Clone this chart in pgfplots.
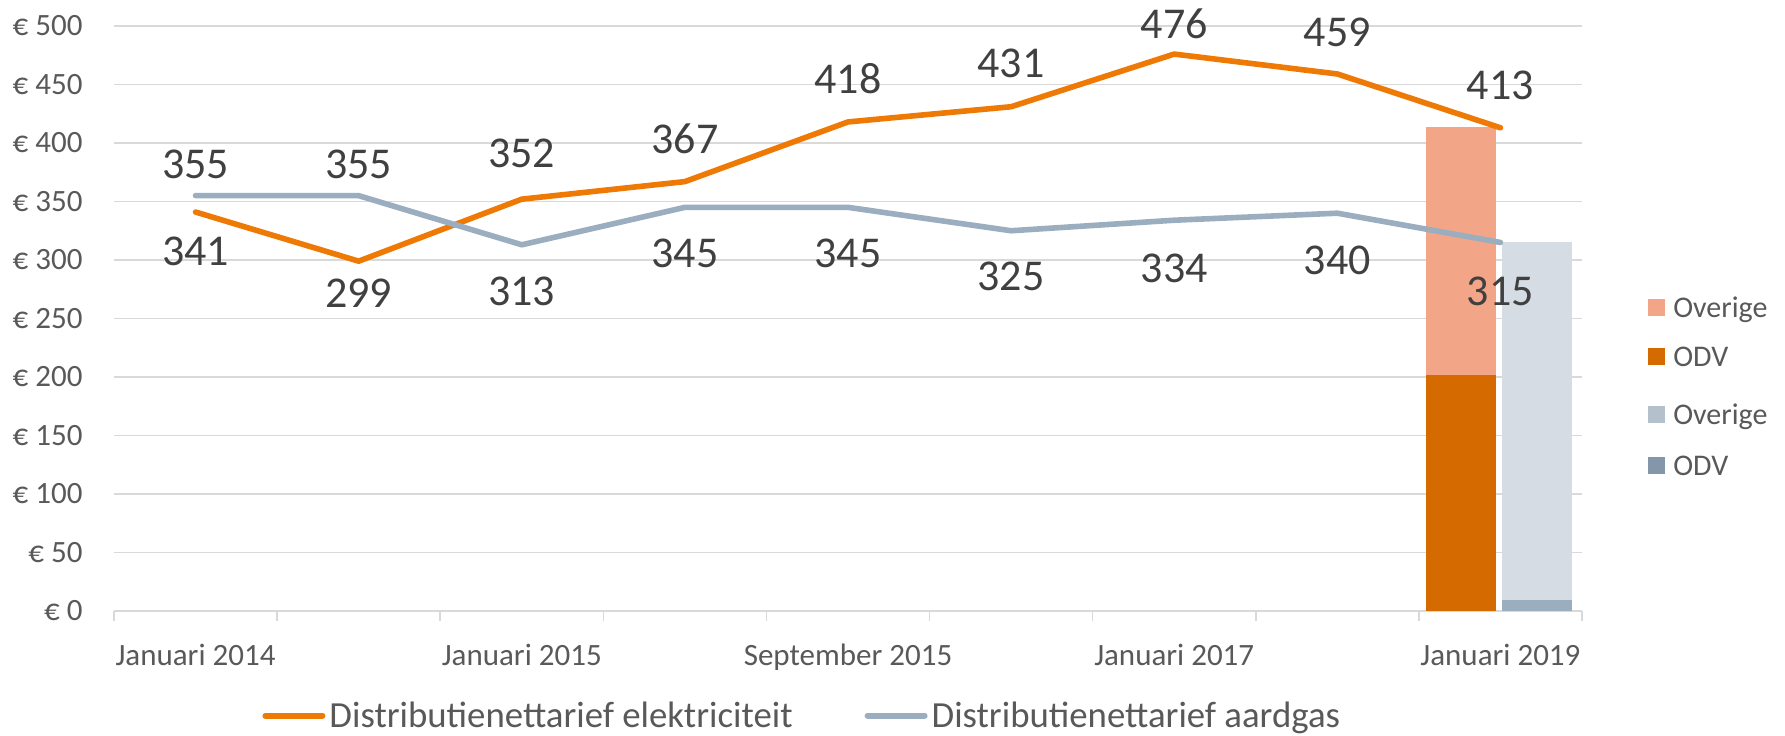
\documentclass[border=0pt]{standalone}
\usepackage{fontspec}
\setmainfont{Carlito}
\usepackage{pgfplots}
\usepackage{pgfplotstable}
\pgfplotsset{compat=1.18}
\definecolor{elec}{HTML}{EE7A05}
\definecolor{gas}{HTML}{9BAEBF}
\definecolor{eodv}{HTML}{D46A00}
\definecolor{eov}{HTML}{F2A687}
\definecolor{gov}{HTML}{D6DCE4}
\definecolor{godv}{HTML}{9BAEBF}
\definecolor{govleg}{HTML}{B4C1CD}
\definecolor{godvleg}{HTML}{8497AA}
\definecolor{gridc}{HTML}{D9D9D9}
\definecolor{labc}{HTML}{404040}
\definecolor{tickc}{HTML}{595959}

\pgfplotstableread{
x y off
1 341 -19.6
2 299 -16.2
3 352 22.8
4 367 21.4
5 418 21.8
6 431 21.6
7 476 15.2
8 459 21.0
9 413 21.3
}\elecdata
\pgfplotstableread{
x y off
1 355 15.4
2 355 15.4
3 313 -23.2
4 345 -23.2
5 345 -23.2
6 325 -22.8
7 334 -24.1
8 340 -23.6
9 315 -24.4
}\gasdata

\pgfplotsset{
  hidelegend/.style={at={(57bp,62.5bp)}, anchor=south west, width=734bp, height=292.5bp,
    scale only axis, hide axis, xmin=0, xmax=1, ymin=0, ymax=1,
    legend cell align=left,
    legend image code/.code={\fill[##1] (0bp,1bp) rectangle (8bp,9bp);}},
  sqlegend/.style={draw=none, fill=none, inner sep=0pt,
    font=\fontsize{15bp}{18bp}\selectfont, text=tickc,
    nodes={inner sep=0pt, text height=10bp, text depth=3bp, anchor=base west},
    row sep=11.5bp, column sep=4bp, anchor=west}
}

\begin{document}
\begin{tikzpicture}
\useasboundingbox (0,0) rectangle (892.5bp,368bp);
\begin{axis}[
  at={(57bp,62.5bp)}, anchor=south west,
  width=734bp, height=292.5bp, scale only axis,
  xmin=0.5, xmax=9.5, ymin=0, ymax=500,
  clip=false,
  axis line style={draw=none},
  xtick={1,3,5,7,9},
  xticklabels={Januari 2014, Januari 2015, September 2015, Januari 2017, Januari 2019},
  minor xtick={0.5,1.5,...,9.5},
  ytick={0,50,...,500},
  /pgf/number format/assume math mode=true,
  yticklabel={€ \pgfmathprintnumber{\tick}},
  xtick pos=lower, ytick pos=left,
  tick align=outside,
  major tick length=0pt,
  minor tick length=5bp,
  minor tick style={gridc, line width=0.75bp},
  ymajorgrids,
  major grid style={gridc, line width=0.75bp},
  tick label style={font=\fontsize{15.5bp}{18bp}\selectfont, text=tickc},
  x tick label style={anchor=base, yshift=-27bp},
  y tick label style={anchor=east, inner sep=0pt, xshift=-15.5bp},
  legend columns=2,
  legend cell align=left,
  legend style={at={(0.0995,-0.18)}, anchor=west, draw=none, fill=none, inner sep=1pt,
    font=\fontsize{18.4bp}{22bp}\selectfont, text=tickc,
    nodes={inner sep=0pt, anchor=base west}, column sep=2bp,
    /tikz/every even column/.append style={column sep=36bp}},
  legend image code/.code={\draw[#1, line width=3bp] (0bp,6bp) -- (28.5bp,6bp);},
]
% bars for the last category
\addplot[ybar, bar width=35bp, bar shift=-19.5bp, fill=eov, draw=none, forget plot] coordinates {(9,414)};
\addplot[ybar, bar width=35bp, bar shift=-19.5bp, fill=eodv, draw=none, forget plot] coordinates {(9,202)};
\addplot[ybar, bar width=35bp, bar shift=18.5bp, fill=gov, draw=none, forget plot] coordinates {(9,315)};
\addplot[ybar, bar width=35bp, bar shift=18.5bp, fill=godv, draw=none, forget plot] coordinates {(9,9)};
% lines
\addplot[elec, line width=2.8bp, line join=round, line cap=round, mark=none,
  nodes near coords, point meta=explicit symbolic,
  visualization depends on={\thisrow{off}\as\myoff},
  every node near coord/.append style={anchor=center, yshift=\myoff bp,
    font=\fontsize{22bp}{26bp}\selectfont, text=labc}]
  table[x=x, y=y, meta=y]{\elecdata};
\addlegendentry{Distributienettarief elektriciteit}
\addplot[gas, line width=2.8bp, line join=round, line cap=round, mark=none,
  nodes near coords, point meta=explicit symbolic,
  visualization depends on={\thisrow{off}\as\myoff},
  every node near coord/.append style={anchor=center, yshift=\myoff bp,
    font=\fontsize{22bp}{26bp}\selectfont, text=labc}]
  table[x=x, y=y, meta=y]{\gasdata};
\addlegendentry{Distributienettarief aardgas}
\end{axis}

\begin{axis}[hidelegend, legend style={sqlegend, at={(1.045,0.472)}}]
\addlegendimage{eov}
\addlegendentry{Overige}
\addlegendimage{eodv}
\addlegendentry{ODV}
\end{axis}

\begin{axis}[hidelegend, legend style={sqlegend, row sep=12.5bp, at={(1.045,0.287)}}]
\addlegendimage{govleg}
\addlegendentry{Overige}
\addlegendimage{godvleg}
\addlegendentry{ODV}
\end{axis}
\end{tikzpicture}
\end{document}
